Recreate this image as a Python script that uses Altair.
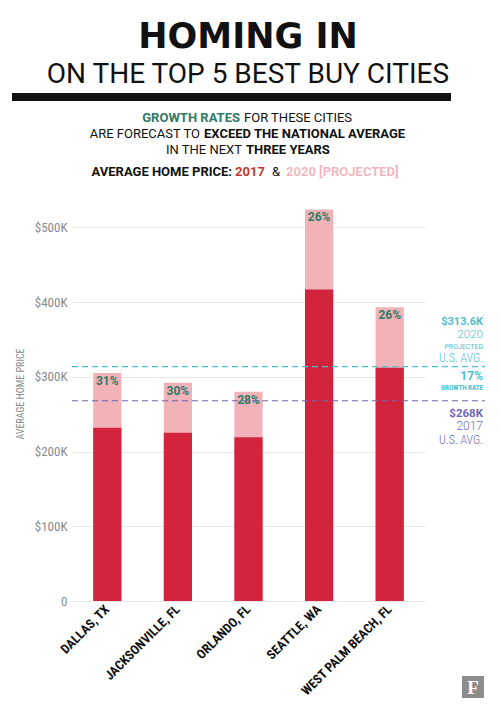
import altair as alt
import pandas as pd

cities = ["DALLAS, TX", "JACKSONVILLE, FL", "ORLANDO, FL", "SEATTLE, WA", "WEST PALM BEACH, FL"]
price_2017 = [232, 225, 219, 417, 312]
price_2020 = [305, 292, 280, 524, 393]
growth = ["31%", "30%", "28%", "26%", "26%"]
us_avg_2020 = 313.6
us_avg_2017 = 268

df = pd.DataFrame({"city": cities, "p17": price_2017, "p20": price_2020, "g": growth})
avg = pd.DataFrame({"v": [us_avg_2020, us_avg_2017], "c": ["2020", "2017"]})
one = pd.DataFrame({"k": [0]})

COND = "Liberation Sans Narrow, Roboto Condensed, Roboto, sans-serif"
MAIN = "Roboto, Inter, sans-serif"
WIDE = "DejaVu Sans, Roboto, sans-serif"
RED = "#d2253d"
PINK = "#f1b3b8"
TEAL = "#2f7a68"
CYAN = "#4cc0d0"
PURPLE = "#6e66b6"

W, H = 353, 411

xenc = alt.X("city:N", sort=cities, title=None,
             scale=alt.Scale(paddingInner=0.6, paddingOuter=0.3),
             axis=alt.Axis(labelAngle=-45, labelAlign="right", labelBaseline="middle",
                           labelFont=COND, labelFontSize=13, labelFontWeight="bold",
                           labelColor="#111", ticks=False, domain=False, labelPadding=6,
                           grid=False))
yscale = alt.Scale(domain=[0, 550], nice=False)
yaxis = alt.Axis(values=list(range(0, 551, 50)), title=None,
                 labelExpr="datum.value == 0 ? '0' : (datum.value % 100 == 0 ? '$' + datum.value + 'K' : '')",
                 labelFont=COND, labelFontSize=13, labelColor="#8a8a8a", ticks=False,
                 domain=False, labelPadding=5, grid=True, gridColor="#e6e6e6", gridWidth=1)

base = alt.Chart(df)
bar20 = base.mark_bar(color=PINK).encode(x=xenc, y=alt.Y("p20:Q", scale=yscale, axis=yaxis))
bar17 = base.mark_bar(color=RED).encode(x=alt.X("city:N", sort=cities), y=alt.Y("p17:Q", scale=yscale))
pct = base.mark_text(color=TEAL, font=MAIN, fontWeight="bold", fontSize=12, baseline="top", dy=3).encode(
    x=alt.X("city:N", sort=cities), y=alt.Y("p20:Q", scale=yscale), text="g:N")

rules = alt.Chart(avg).mark_rule(strokeDash=[6, 4], strokeWidth=1.2).encode(
    y=alt.Y("v:Q", scale=yscale), x=alt.value(0), x2=alt.value(413),
    color=alt.Color("c:N", scale=alt.Scale(domain=["2020", "2017"], range=[CYAN, PURPLE]), legend=None))


def txt(t, x, y, size, color, weight="normal", align="center", font=MAIN, angle=0):
    return alt.Chart(one).mark_text(text=t, fontSize=size, color=color, fontWeight=weight,
                                    align=align, baseline="alphabetic", font=font, angle=angle).encode(
        x=alt.value(x), y=alt.value(y))


layers = [bar20, bar17, pct, rules]

# titles
layers += [
    txt("HOMING IN", 176, -142, 35, "#111", "bold", "center", WIDE),
    txt("ON THE TOP 5 BEST BUY CITIES", 176, -107, 28, "#111"),
    alt.Chart(one).mark_rect(color="#111").encode(
        x=alt.value(-60), x2=alt.value(379), y=alt.value(-97), y2=alt.value(-89)),
    txt("GROWTH RATES", 168, -68, 13, TEAL, "bold", "right"),
    txt("FOR THESE CITIES", 172, -68, 13, "#111", "normal", "left"),
    txt("ARE FORECAST TO", 128, -52, 13, "#111", "normal", "right"),
    txt("EXCEED THE NATIONAL AVERAGE", 132, -52, 13, "#111", "bold", "left"),
    txt("IN THE NEXT", 170, -36, 13, "#111", "normal", "right"),
    txt("THREE YEARS", 174, -36, 13, "#111", "bold", "left"),
    txt("AVERAGE HOME PRICE:", 160, -14, 13, "#111", "bold", "right"),
    txt("2017", 163, -14, 13, "#c0392b", "bold", "left"),
    txt("&", 204, -14, 13, "#111", "normal", "center"),
    txt("2020 [PROJECTED]", 214, -14, 13, "#f0b8be", "bold", "left"),
]

# y-axis title
layers += [txt("AVERAGE HOME PRICE", -48, 204, 10, "#8a8a8a", "normal", "center", COND, 270)]

# right annotations
R = 411
layers += [
    txt("$313.6K", R, 135, 11, CYAN, "bold", "right"),
    txt("2020", R, 148, 11.5, CYAN, 300, "right"),
    txt("PROJECTED", R, 159, 7, CYAN, "normal", "right"),
    txt("U.S. AVG.", R, 172, 12, CYAN, 300, "right", COND),
    txt("17%", R, 190, 12, CYAN, "bold", "right"),
    txt("GROWTH RATE", R, 200, 7, CYAN, "bold", "right", COND),
    txt("$268K", R, 227, 11.5, PURPLE, "bold", "right"),
    txt("2017", R, 240, 12, PURPLE, 300, "right"),
    txt("U.S. AVG.", R, 254, 12, PURPLE, 300, "right", COND),
]

# logo
layers += [
    alt.Chart(one).mark_rect(color="#8c8c8c").encode(
        x=alt.value(390), x2=alt.value(412), y=alt.value(486), y2=alt.value(508)),
    txt("F", 401, 504, 19, "white", "bold", "center", "Liberation Serif, DejaVu Serif, serif"),
]

chart = alt.layer(*layers).properties(
    width=W, height=H,
    autosize=alt.AutoSizeParams(type="none"),
    padding={"left": 64, "top": 182, "right": 67, "bottom": 112},
    background="white",
).configure_view(stroke=None)

chart.save("out.html", embed_options={"renderer": "svg", "actions": False})
